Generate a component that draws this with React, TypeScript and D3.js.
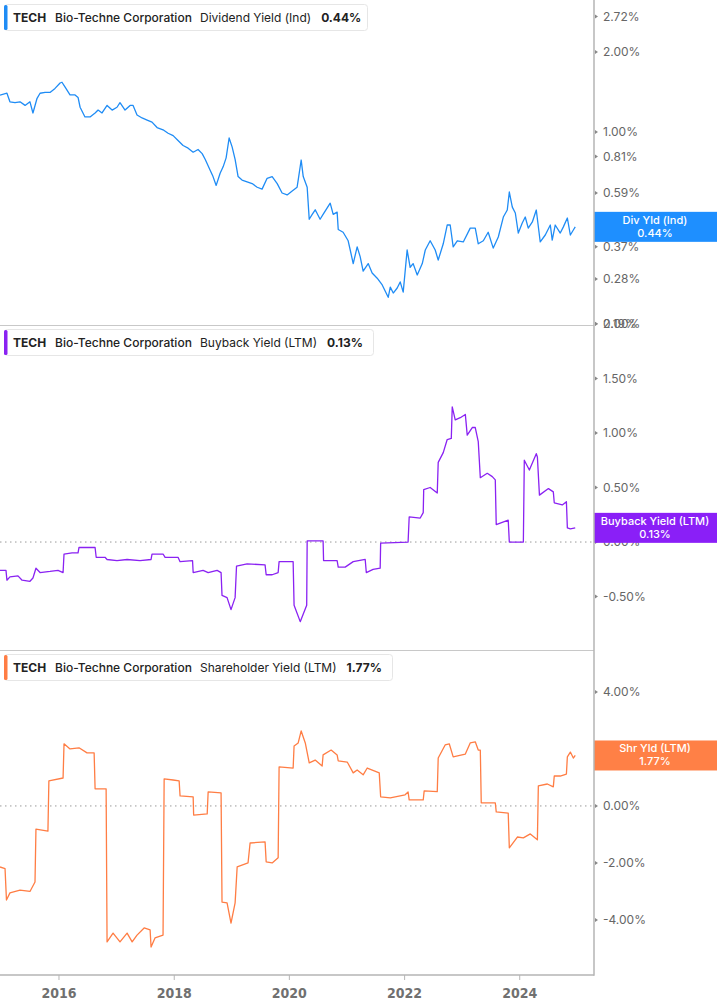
import React from 'react';
import * as d3 from 'd3';

// TECH yields (dates, percent)
const dividendYield: [string, number][] = [
  ['2014-12-23', 1.378], ['2015-02-05', 1.40], ['2015-02-24', 1.30], ['2015-03-28', 1.29],
  ['2015-04-29', 1.30], ['2015-05-31', 1.26], ['2015-07-01', 1.30], ['2015-07-20', 1.18],
  ['2015-08-15', 1.34], ['2015-09-03', 1.40], ['2015-10-05', 1.41], ['2015-11-05', 1.41],
  ['2015-12-07', 1.46], ['2016-01-08', 1.53], ['2016-01-20', 1.54], ['2016-02-08', 1.48],
  ['2016-03-11', 1.38], ['2016-04-12', 1.38], ['2016-05-01', 1.35], ['2016-05-14', 1.24],
  ['2016-06-14', 1.14], ['2016-07-16', 1.14], ['2016-08-17', 1.18], ['2016-09-05', 1.21],
  ['2016-09-30', 1.18], ['2016-11-01', 1.26], ['2016-12-03', 1.21], ['2017-01-03', 1.24],
  ['2017-01-22', 1.29], ['2017-02-23', 1.21], ['2017-03-27', 1.26], ['2017-04-15', 1.26],
  ['2017-05-10', 1.16], ['2017-06-11', 1.13], ['2017-07-13', 1.11], ['2017-08-13', 1.09],
  ['2017-09-14', 1.04], ['2017-10-22', 1.02], ['2017-11-23', 0.99], ['2017-12-25', 0.97],
  ['2018-01-25', 0.93], ['2018-02-26', 0.89], ['2018-03-30', 0.87], ['2018-05-01', 0.84],
  ['2018-06-01', 0.86], ['2018-06-27', 0.83], ['2018-07-16', 0.79], ['2018-08-16', 0.72],
  ['2018-09-04', 0.68], ['2018-09-24', 0.63], ['2018-10-19', 0.70], ['2018-11-07', 0.74],
  ['2018-11-26', 0.80], ['2018-12-15', 0.95], ['2019-01-03', 0.88], ['2019-01-22', 0.79],
  ['2019-02-10', 0.68], ['2019-03-07', 0.66], ['2019-04-08', 0.65], ['2019-05-10', 0.64],
  ['2019-06-11', 0.62], ['2019-07-12', 0.61], ['2019-08-13', 0.67], ['2019-09-14', 0.68],
  ['2019-10-16', 0.64], ['2019-11-16', 0.59], ['2019-12-18', 0.58], ['2020-01-19', 0.60],
  ['2020-02-19', 0.62], ['2020-02-26', 0.66], ['2020-03-16', 0.785], ['2020-03-29', 0.68],
  ['2020-04-23', 0.62], ['2020-05-06', 0.47], ['2020-05-25', 0.49], ['2020-06-13', 0.51],
  ['2020-07-14', 0.47], ['2020-08-02', 0.49], ['2020-09-16', 0.54], ['2020-10-05', 0.49],
  ['2020-10-30', 0.50], ['2020-11-06', 0.43], ['2020-12-07', 0.42], ['2021-01-08', 0.39],
  ['2021-01-21', 0.36], ['2021-02-09', 0.32], ['2021-03-06', 0.37], ['2021-03-25', 0.34],
  ['2021-04-13', 0.30], ['2021-05-15', 0.32], ['2021-06-09', 0.295], ['2021-07-11', 0.282],
  ['2021-08-12', 0.266], ['2021-09-19', 0.239], ['2021-10-02', 0.261], ['2021-10-21', 0.248],
  ['2021-11-15', 0.259], ['2021-12-04', 0.273], ['2021-12-23', 0.250], ['2022-01-17', 0.36],
  ['2022-02-05', 0.31], ['2022-02-24', 0.32], ['2022-03-22', 0.29], ['2022-04-23', 0.32],
  ['2022-05-12', 0.36], ['2022-06-12', 0.39], ['2022-07-14', 0.36], ['2022-08-02', 0.33],
  ['2022-09-03', 0.38], ['2022-09-28', 0.447], ['2022-10-17', 0.447], ['2022-11-05', 0.37],
  ['2022-12-01', 0.39], ['2023-01-08', 0.386], ['2023-02-21', 0.435], ['2023-03-25', 0.435],
  ['2023-04-13', 0.38], ['2023-05-15', 0.39], ['2023-06-15', 0.42], ['2023-07-17', 0.366],
  ['2023-08-18', 0.403], ['2023-09-19', 0.479], ['2023-10-14', 0.509], ['2023-10-27', 0.595],
  ['2023-11-15', 0.522], ['2023-12-04', 0.496], ['2023-12-23', 0.417], ['2024-01-17', 0.455],
  ['2024-02-05', 0.479], ['2024-02-24', 0.435], ['2024-03-21', 0.459], ['2024-04-15', 0.509],
  ['2024-05-10', 0.386], ['2024-06-11', 0.410], ['2024-07-13', 0.447], ['2024-07-25', 0.392],
  ['2024-08-13', 0.447], ['2024-09-14', 0.417], ['2024-10-03', 0.439], ['2024-10-29', 0.475],
  ['2024-11-17', 0.410], ['2024-12-06', 0.428], ['2024-12-18', 0.44],
];

const buybackYield: [string, number][] = [
  ['2014-12-23', -0.26], ['2015-01-30', -0.26], ['2015-02-05', -0.35], ['2015-02-24', -0.32],
  ['2015-04-16', -0.31], ['2015-05-12', -0.35], ['2015-07-01', -0.36], ['2015-07-20', -0.33],
  ['2015-08-08', -0.24], ['2015-09-03', -0.28], ['2015-11-05', -0.27], ['2015-12-26', -0.26],
  ['2016-01-27', -0.28], ['2016-02-02', -0.11], ['2016-03-24', -0.10], ['2016-05-01', -0.10],
  ['2016-05-07', -0.05], ['2016-08-17', -0.05], ['2016-08-24', -0.14], ['2016-10-19', -0.14],
  ['2016-11-01', -0.16], ['2017-01-03', -0.17], ['2017-03-08', -0.16], ['2017-05-29', -0.17],
  ['2017-08-07', -0.16], ['2017-08-13', -0.11], ['2017-10-22', -0.11], ['2017-11-04', -0.14],
  ['2018-01-25', -0.14], ['2018-02-07', -0.18], ['2018-04-27', -0.17], ['2018-05-01', -0.28],
  ['2018-07-03', -0.26], ['2018-08-04', -0.28], ['2018-09-30', -0.26], ['2018-10-25', -0.28],
  ['2018-10-31', -0.49], ['2018-12-02', -0.51], ['2018-12-27', -0.62], ['2019-01-22', -0.51],
  ['2019-01-31', -0.22], ['2019-04-08', -0.20], ['2019-07-31', -0.21], ['2019-08-07', -0.30],
  ['2019-09-14', -0.30], ['2019-10-22', -0.28], ['2019-10-28', -0.18], ['2020-01-25', -0.18],
  ['2020-01-31', -0.58], ['2020-03-10', -0.73], ['2020-04-20', -0.58], ['2020-04-23', 0.01],
  ['2020-08-02', 0.01], ['2020-08-05', -0.17], ['2020-10-30', -0.17], ['2020-11-06', -0.23],
  ['2020-12-20', -0.23], ['2021-02-09', -0.18], ['2021-04-26', -0.16], ['2021-05-03', -0.28],
  ['2021-06-15', -0.25], ['2021-07-30', -0.24], ['2021-08-02', -0.01], ['2022-01-23', 0.0],
  ['2022-01-30', 0.23], ['2022-04-10', 0.22], ['2022-04-29', 0.27], ['2022-05-02', 0.48],
  ['2022-06-12', 0.50], ['2022-07-27', 0.45], ['2022-08-02', 0.73], ['2022-09-03', 0.82],
  ['2022-09-28', 0.94], ['2022-10-24', 0.95], ['2022-10-30', 1.24], ['2022-11-18', 1.12],
  ['2022-12-20', 1.14], ['2023-01-21', 1.17], ['2023-02-02', 0.98], ['2023-03-06', 1.05],
  ['2023-03-25', 1.05], ['2023-04-13', 0.92], ['2023-04-26', 0.59], ['2023-06-09', 0.63],
  ['2023-07-11', 0.60], ['2023-07-30', 0.57], ['2023-08-05', 0.16], ['2023-10-20', 0.20],
  ['2023-10-27', 0.0], ['2024-01-24', 0.0], ['2024-01-30', 0.75], ['2024-03-02', 0.66],
  ['2024-04-15', 0.81], ['2024-04-22', 0.78], ['2024-05-05', 0.43], ['2024-07-01', 0.49],
  ['2024-08-01', 0.46], ['2024-08-07', 0.36], ['2024-09-27', 0.34], ['2024-10-23', 0.37],
  ['2024-10-29', 0.13], ['2024-11-17', 0.12], ['2024-12-18', 0.13],
];

const shareholderYield: [string, number][] = [
  ['2014-12-23', -2.14], ['2015-01-24', -2.2], ['2015-02-02', -3.30], ['2015-02-24', -3.05],
  ['2015-04-29', -2.95], ['2015-07-01', -3.0], ['2015-08-02', -2.67], ['2015-08-08', -0.81],
  ['2015-10-23', -0.88], ['2015-10-29', 0.88], ['2016-01-27', 0.98], ['2016-02-02', 2.18],
  ['2016-03-11', 2.00], ['2016-05-07', 2.04], ['2016-06-27', 1.86], ['2016-08-11', 1.86],
  ['2016-08-17', 0.60], ['2016-10-26', 0.60], ['2016-11-01', -4.77], ['2016-12-09', -4.46],
  ['2017-01-22', -4.77], ['2017-03-08', -4.46], ['2017-04-09', -4.77], ['2017-05-10', -4.53],
  ['2017-06-24', -4.28], ['2017-08-01', -4.35], ['2017-08-07', -4.95], ['2017-09-01', -4.63],
  ['2017-10-22', -4.53], ['2017-10-29', 0.95], ['2017-12-25', 0.91], ['2018-02-01', 0.88],
  ['2018-02-07', 0.35], ['2018-05-01', 0.32], ['2018-05-04', -0.32], ['2018-07-29', -0.28],
  ['2018-08-04', 0.49], ['2018-10-25', 0.46], ['2018-10-31', -3.37], ['2018-12-02', -3.40],
  ['2018-12-27', -4.11], ['2019-01-22', -3.40], ['2019-02-04', -2.14], ['2019-04-14', -2.00],
  ['2019-04-27', -1.30], ['2019-07-31', -1.26], ['2019-08-07', -1.96], ['2019-09-14', -2.0],
  ['2019-10-22', -1.82], ['2019-10-28', 1.37], ['2020-01-25', 1.33], ['2020-01-31', 2.10],
  ['2020-02-26', 2.21], ['2020-03-16', 2.63], ['2020-04-11', 2.21], ['2020-05-06', 1.51],
  ['2020-06-13', 1.61], ['2020-07-27', 1.40], ['2020-08-02', 1.79], ['2020-09-22', 1.96],
  ['2020-10-30', 1.79], ['2020-11-06', 1.58], ['2021-01-02', 1.54], ['2021-02-09', 1.16],
  ['2021-03-06', 1.26], ['2021-04-13', 1.09], ['2021-05-09', 1.33], ['2021-07-24', 1.16],
  ['2021-08-02', 0.32], ['2021-10-02', 0.28], ['2022-01-04', 0.39], ['2022-01-23', 0.49],
  ['2022-01-30', 0.21], ['2022-04-29', 0.21], ['2022-05-05', 0.53], ['2022-07-27', 0.50],
  ['2022-08-02', 1.68], ['2022-09-15', 2.14], ['2022-10-11', 2.18], ['2022-11-05', 1.72],
  ['2023-01-21', 1.82], ['2023-02-21', 2.21], ['2023-03-25', 2.25], ['2023-04-13', 1.96],
  ['2023-04-26', 1.96], ['2023-05-02', 0.11], ['2023-07-30', 0.11], ['2023-08-05', -0.21],
  ['2023-10-20', -0.25], ['2023-10-27', -1.47], ['2023-12-17', -1.09], ['2024-01-24', -1.12],
  ['2024-03-08', -0.98], ['2024-04-22', -1.19], ['2024-04-28', 0.70], ['2024-06-24', 0.77],
  ['2024-08-01', 0.67], ['2024-08-07', 1.05], ['2024-09-14', 1.05], ['2024-10-23', 1.12],
  ['2024-10-29', 1.72], ['2024-11-17', 1.89], ['2024-12-06', 1.68], ['2024-12-18', 1.77],
];

const yearTicks = [2016, 2018, 2020, 2022, 2024];
const dividendTicks = [2.72, 2.0, 1.0, 0.81, 0.59, 0.37, 0.28, 0.19];
const buybackTicks = [2.0, 1.5, 1.0, 0.5, 0.0, -0.5];
const shareholderTicks = [4.0, 2.0, 0.0, -2.0, -4.0];

const W = 717;
const H = 1005;
const AXIS_X = 594;
const FONT = "Inter, 'Noto Sans', sans-serif";
const parse = d3.timeParse('%Y-%m-%d');

const x = d3
  .scaleTime()
  .domain([parse('2014-12-23')!, parse('2025-04-16')!])
  .range([0, AXIS_X]);

const panels = [
  {
    key: 'div',
    top: 0,
    bottom: 325,
    data: dividendYield,
    y: d3.scaleLog().domain([0.188, 3.14]).range([325, 0]),
    ticks: dividendTicks,
    color: '#1f8cf5',
    badge: '#1e8fff',
    metric: 'Dividend Yield (Ind)',
    short: 'Div Yld (Ind)',
    boxW: 363,
    zero: false,
  },
  {
    key: 'buy',
    top: 325,
    bottom: 650,
    data: buybackYield,
    y: d3.scaleLinear().domain([-0.99, 1.99]).range([650, 325]),
    ticks: buybackTicks,
    color: '#8a22f2',
    badge: '#8a1ff7',
    metric: 'Buyback Yield (LTM)',
    short: 'Buyback Yield (LTM)',
    boxW: 369,
    zero: true,
  },
  {
    key: 'shr',
    top: 650,
    bottom: 975,
    data: shareholderYield,
    y: d3.scaleLinear().domain([-5.93, 5.47]).range([975, 650]),
    ticks: shareholderTicks,
    color: '#ff7d44',
    badge: '#ff8046',
    metric: 'Shareholder Yield (LTM)',
    short: 'Shr Yld (LTM)',
    boxW: 388,
    zero: true,
  },
];

function Panel({ p }: { p: (typeof panels)[number] }) {
  const line = d3
    .line<[string, number]>()
    .x((d) => x(parse(d[0])!))
    .y((d) => p.y(d[1]));
  const last = p.data[p.data.length - 1][1];
  const lastLabel = last.toFixed(2) + '%';
  const by = p.y(last);
  const ty = p.top + 21.5;
  return (
    <g>
      <clipPath id={'clip-' + p.key}>
        <rect x={0} y={p.top} width={AXIS_X} height={p.bottom - p.top} />
      </clipPath>
      {p.zero && (
        <line
          x1={0}
          x2={AXIS_X}
          y1={p.y(0)}
          y2={p.y(0)}
          stroke="#999"
          strokeWidth={1}
          strokeDasharray="1.5,3.5"
        />
      )}
      <path
        d={line(p.data) || ''}
        fill="none"
        stroke={p.color}
        strokeWidth={1.3}
        strokeLinejoin="round"
        clipPath={`url(#clip-${p.key})`}
      />
      {p.ticks.map((t) => (
        <g key={t}>
          <path d={`M${AXIS_X + 1},${p.y(t) - 2}L${AXIS_X + 4},${p.y(t)}L${AXIS_X + 1},${p.y(t) + 2}Z`} fill="#888" />
          <text
            x={603}
            y={p.y(t)}
            dy="0.35em"
            fontFamily={FONT}
            fontSize={12}
            fill="#666"
          >
            {t.toFixed(2) + '%'}
          </text>
        </g>
      ))}
      <rect x={AXIS_X} y={by - 15} width={W - AXIS_X} height={30} fill={p.badge} />
      <text x={655} y={by - 3} textAnchor="middle" fontFamily={FONT} fontSize={11} fontWeight={500} fill="#fff">
        {p.short}
      </text>
      <text x={655} y={by + 10} textAnchor="middle" fontFamily={FONT} fontSize={11} fontWeight={500} fill="#fff">
        {lastLabel}
      </text>
      <rect
        x={4.5}
        y={p.top + 4.5}
        width={p.boxW}
        height={26}
        rx={3}
        fill="#fff"
        stroke="#e6e6e6"
      />
      <rect x={4} y={p.top + 5} width={3.5} height={25} rx={1.5} fill={p.color} />
      <text y={ty} fontFamily={FONT} fontSize={12} fill="#222">
        <tspan x={13} fontWeight={700}>TECH</tspan>
        <tspan x={55} fontWeight={500}>Bio-Techne Corporation</tspan>
        <tspan x={200} fontWeight={400}>{p.metric}</tspan>
        <tspan dx={10} fontWeight={700}>{lastLabel}</tspan>
      </text>
    </g>
  );
}

export default function App() {
  return (
    <svg
      width={W}
      height={H}
      style={{ position: 'absolute', left: 0, top: 0, background: '#fff' }}
    >
      {panels.map((p) => (
        <Panel key={p.key} p={p} />
      ))}
      <line x1={0} x2={AXIS_X} y1={325.5} y2={325.5} stroke="#c8c8c8" />
      <line x1={0} x2={AXIS_X} y1={650.5} y2={650.5} stroke="#c8c8c8" />
      <line x1={0} x2={AXIS_X} y1={975} y2={975} stroke="#b5b5b5" strokeWidth={1.5} />
      <line x1={AXIS_X} x2={AXIS_X} y1={0} y2={975.75} stroke="#b5b5b5" strokeWidth={1.5} />
      {yearTicks.map((yr) => {
        const tx = x(new Date(yr, 0, 1));
        return (
          <g key={yr}>
            <line x1={tx} x2={tx} y1={975} y2={980} stroke="#b5b5b5" />
            <text
              x={tx}
              y={998}
              textAnchor="middle"
              fontFamily="'Liberation Sans Narrow', 'DejaVu Sans Condensed', Roboto, sans-serif"
              fontWeight={600}
              fontSize={14}
              fill="#707070"
            >
              {yr}
            </text>
          </g>
        );
      })}
    </svg>
  );
}
